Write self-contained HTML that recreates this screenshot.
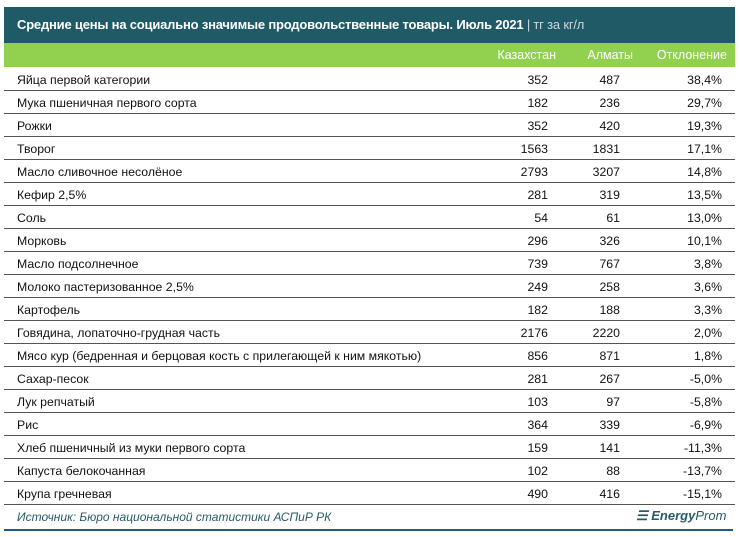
<!DOCTYPE html>
<html><head><meta charset="utf-8"><style>
body{margin:0;width:740px;height:537px;background:#fff;font-family:"Liberation Sans",sans-serif;position:relative;overflow:hidden}
.h1{position:absolute;left:4px;top:7px;width:731px;height:36px;background:#215a67;color:#fff;font-size:13px;font-weight:bold;line-height:36px;padding-left:13px;box-sizing:border-box;letter-spacing:-0.2px}
.h1 span{color:#c8d8dc;font-weight:normal}
.h2{position:absolute;left:4px;top:43px;width:731px;height:24px;background:#92d050;color:#fff;font-size:12.5px}
.h2 div{position:absolute;top:5px;text-align:right}
.row{position:absolute;left:4px;width:731px;height:23px;border-bottom:1px solid #555;box-sizing:border-box;font-size:12.3px;color:#111}
.row div{position:absolute;top:5px}
.n{left:13px}
.a{right:187px;text-align:right}
.b{right:115px;text-align:right}
.c{right:13px;text-align:right}
.src{position:absolute;left:17px;top:510px;font-size:12px;font-style:italic;color:#2a5a6a}
.logo{position:absolute;left:636px;top:508px;font-size:13px;font-style:italic;color:#2a5a6a;font-weight:bold}
.logo i{font-weight:normal}
.bl{position:absolute;left:4px;top:529px;width:729px;height:2px;background:#215a80}
</style></head><body>
<div class="h1">Средние цены на социально значимые продовольственные товары. Июль 2021 <span>| тг за кг/л</span></div>
<div class="h2"><div style="right:179px">Казахстан</div><div style="right:102px">Алматы</div><div style="right:8px">Отклонение</div></div>
<div id="t"></div>
<script>
var d=[["Яйца первой категории",352,487,"38,4%"],["Мука пшеничная первого сорта",182,236,"29,7%"],["Рожки",352,420,"19,3%"],["Творог",1563,1831,"17,1%"],["Масло сливочное несолёное",2793,3207,"14,8%"],["Кефир 2,5%",281,319,"13,5%"],["Соль",54,61,"13,0%"],["Морковь",296,326,"10,1%"],["Масло подсолнечное",739,767,"3,8%"],["Молоко пастеризованное 2,5%",249,258,"3,6%"],["Картофель",182,188,"3,3%"],["Говядина, лопаточно-грудная часть",2176,2220,"2,0%"],["Мясо кур (бедренная и берцовая кость с прилегающей к ним мякотью)",856,871,"1,8%"],["Сахар-песок",281,267,"-5,0%"],["Лук репчатый",103,97,"-5,8%"],["Рис",364,339,"-6,9%"],["Хлеб пшеничный из муки первого сорта",159,141,"-11,3%"],["Капуста белокочанная",102,88,"-13,7%"],["Крупа гречневая",490,416,"-15,1%"]];
var h="";d.forEach(function(r,i){h+='<div class="row" style="top:'+(68+i*23)+'px"><div class="n">'+r[0]+'</div><div class="a">'+r[1]+'</div><div class="b">'+r[2]+'</div><div class="c">'+r[3]+'</div></div>'});
document.getElementById("t").innerHTML=h;
</script>
<div class="src">Источник: Бюро национальной статистики АСПиР РК</div>
<div class="logo">☰ Energy<i>Prom</i></div>
<div class="bl"></div>
</body></html>
